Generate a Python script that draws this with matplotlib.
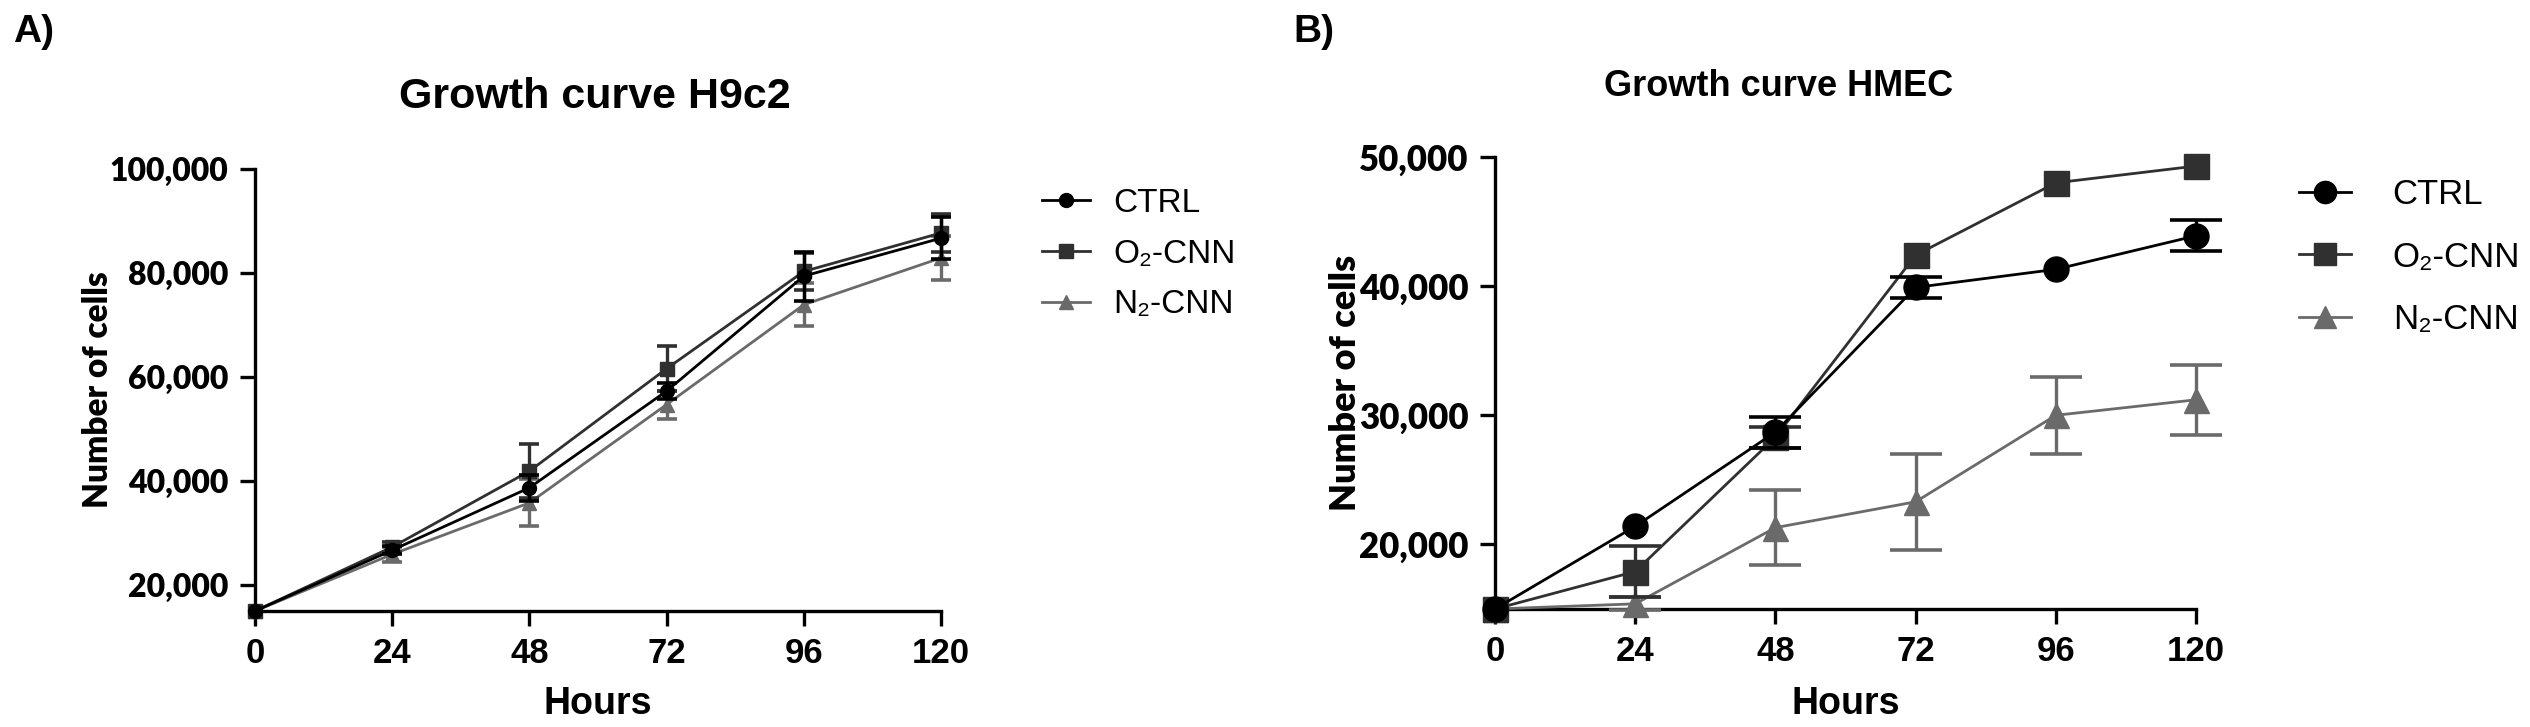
import matplotlib
matplotlib.use("Agg")
import matplotlib.pyplot as plt
import matplotlib.ticker as mticker
from matplotlib import font_manager
from matplotlib.lines import Line2D

# ── data ──────────────────────────────────────────────────────────────────────
HOURS  = [0, 24, 48, 72, 96, 120]
LABELS = ["CTRL", "O₂-CNN", "N₂-CNN"]

H9C2_CTRL     = [15000, 26700, 38700, 57300, 79400, 86700]
H9C2_CTRL_ERR = [0, 800, 2500, 1500, 4700, 4100]
H9C2_O2       = [15000, 27300, 41900, 61600, 80300, 87700]
H9C2_O2_ERR   = [0, 1000, 5200, 4300, 3500, 3700]
H9C2_N2       = [15000, 25900, 35800, 54700, 73900, 82900]
H9C2_N2_ERR   = [0, 1500, 4500, 2700, 4100, 4300]

HMEC_CTRL     = [15000, 21400, 28700, 39900, 41300, 43900]
HMEC_CTRL_ERR = [0, 0, 1200, 800, 0, 1200]
HMEC_O2       = [15000, 17900, 28300, 42400, 48000, 49300]
HMEC_O2_ERR   = [0, 2000, 800, 0, 0, 0]
HMEC_N2       = [15000, 15400, 21300, 23300, 30000, 31200]
HMEC_N2_ERR   = [0, 500, 2900, 3700, 3000, 2700]

H9C2_YTICKS = [20000, 40000, 60000, 80000, 100000]
HMEC_YTICKS = [20000, 30000, 40000, 50000]

# ── style ─────────────────────────────────────────────────────────────────────
C_CTRL = "#000000"
C_O2   = "#303030"
C_N2   = "#6a6a6a"
MARKERS = ["o", "s", "^"]
COLORS  = [C_CTRL, C_O2, C_N2]

installed = {f.name for f in font_manager.fontManager.ttflist}
NARROW = "Liberation Sans Narrow" if "Liberation Sans Narrow" in installed else "Liberation Sans"
SANS   = "Liberation Sans"
HUMAN  = "Lato" if "Lato" in installed else "Liberation Sans"

plt.rcParams.update({
    "font.family": [SANS, "DejaVu Sans"],
    "axes.spines.top": False,
    "axes.spines.right": False,
    "axes.linewidth": 2.4,
})

W, H = 2530, 727
fig = plt.figure(figsize=(W / 100, H / 100), dpi=100)


def panel(rect, series, errs, ylim, yticks, ms, cap, lw, ytick_size, ylab_size, label_x, leg):
    ax = fig.add_axes([rect[0] / W, 1 - rect[3] / H, (rect[2] - rect[0]) / W, (rect[3] - rect[1]) / H])
    # draw N2 first so that CTRL sits on top
    for i in [2, 1, 0]:
        z = 3 + 2 * (2 - i)
        ax.plot(HOURS, series[i], color=COLORS[i], marker=MARKERS[i], markersize=ms,
                linewidth=lw, clip_on=False, zorder=z + 1)
        # error bars only where an error was measured
        keep = [k for k, e in enumerate(errs[i]) if e > 0]
        ax.errorbar([HOURS[k] for k in keep], [series[i][k] for k in keep],
                    yerr=[errs[i][k] for k in keep], fmt="none", ecolor=COLORS[i],
                    elinewidth=2.4, capsize=cap, capthick=2.6, clip_on=False, zorder=z)
    ax.set_xlim(0, 120)
    ax.set_ylim(*ylim)
    ax.set_xticks(HOURS)
    ax.set_yticks(yticks)
    ax.yaxis.set_major_formatter(mticker.FuncFormatter(lambda v, p: f"{int(v):,}"))
    ax.tick_params(direction="out", length=11, width=2.4)
    ax.tick_params(axis="x", pad=8)
    ax.tick_params(axis="y", pad=8)
    for t in ax.get_xticklabels():
        t.set_family(NARROW); t.set_fontweight("bold"); t.set_fontsize(25)
    for t in ax.get_yticklabels():
        t.set_family(HUMAN); t.set_fontweight("heavy"); t.set_fontsize(ytick_size)
    ax.set_xlabel("Hours", family=NARROW, fontweight="bold", fontsize=27)
    ax.xaxis.set_label_coords(0.5, -0.17)
    ax.set_ylabel("Number of cells", family=HUMAN, fontweight="heavy", fontsize=ylab_size)
    ax.yaxis.set_label_coords(label_x, 0.5)

    handles = [Line2D([], [], color=COLORS[i], marker=MARKERS[i], markersize=leg["ms"],
                      linewidth=lw) for i in range(3)]
    ax.legend(handles, LABELS, loc="center left", bbox_to_anchor=leg["anchor"],
              bbox_transform=fig.transFigure, frameon=False, fontsize=leg["fs"],
              handlelength=leg["hl"], handletextpad=leg["tp"], labelspacing=leg["ls"],
              borderpad=0, borderaxespad=0)
    return ax


panel((255, 169, 941, 611),
      [H9C2_CTRL, H9C2_O2, H9C2_N2], [H9C2_CTRL_ERR, H9C2_O2_ERR, H9C2_N2_ERR],
      (15000, 100000), H9C2_YTICKS, ms=10, cap=7, lw=2.0, ytick_size=23, ylab_size=24,
      label_x=-0.205,
      leg=dict(anchor=(1042 / W, 1 - 254 / H), fs=24, hl=1.45, tp=0.7, ls=0.6, ms=10))

panel((1495, 157, 2196, 609),
      [HMEC_CTRL, HMEC_O2, HMEC_N2], [HMEC_CTRL_ERR, HMEC_O2_ERR, HMEC_N2_ERR],
      (15000, 50000), HMEC_YTICKS, ms=18, cap=19, lw=2.0, ytick_size=25, ylab_size=26,
      label_x=-0.19,
      leg=dict(anchor=(2299 / W, 1 - 257 / H), fs=25, hl=1.5, tp=1.2, ls=0.85, ms=16))

fig.text(595 / W, 1 - 97 / H, "Growth curve H9c2", family=NARROW, fontweight="bold",
         fontsize=31, ha="center", va="center")
fig.text(1779 / W, 1 - 87 / H, "Growth curve HMEC", family=NARROW, fontweight="bold",
         fontsize=26, ha="center", va="center")
fig.text(13 / W, 1 - 32 / H, "A)", family=NARROW, fontweight="bold", fontsize=28,
         ha="left", va="center")
fig.text(1293 / W, 1 - 32 / H, "B)", family=NARROW, fontweight="bold", fontsize=28,
         ha="left", va="center")

fig.savefig("out.png", dpi=100, facecolor="white")
